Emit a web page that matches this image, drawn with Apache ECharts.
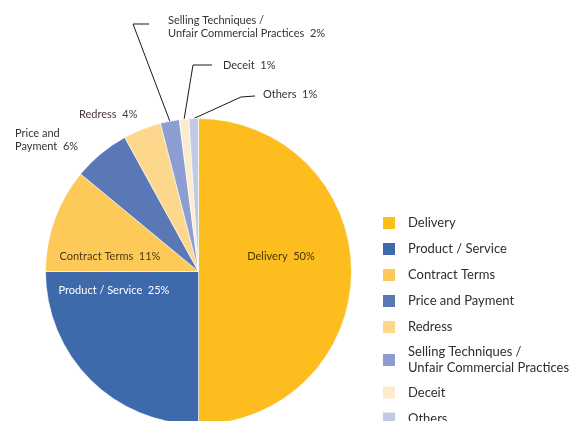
<!DOCTYPE html>
<html>
<head>
<meta charset="utf-8">
<script src="https://cdn.jsdelivr.net/npm/echarts@6/dist/echarts.min.js"></script>
<style>
  html, body { margin: 0; padding: 0; background: #fff; }
  #main { width: 572px; height: 421px; }
</style>
</head>
<body>
<div id="main"></div>
<script>
// categories (legend names) and their shares in %
var categories = ['Delivery', 'Product / Service', 'Contract Terms', 'Price and Payment', 'Redress',
                  'Selling Techniques /\nUnfair Commercial Practices', 'Deceit', 'Others'];
var shares = [50, 25, 11, 6, 4, 2, 1, 1];
// text used for the slice labels
var labelTexts = ['Delivery', 'Product / Service', 'Contract Terms', 'Price and\nPayment', 'Redress',
                  'Selling Techniques /\nUnfair Commercial Practices', 'Deceit', 'Others'];

var colors = ['#fdbd1f', '#3e69ab', '#fdca5a', '#5a77b6', '#fdd88c', '#8c9dd1', '#fdeccb', '#c0cae6'];
var labelColors = ['#4a3500', '#ffffff', '#4a3a12', '#333333', '#4d3838', '#333333', '#333333', '#333333'];
var inside = [true, true, true, false, false, false, false, false];

// where each label sits (layout only), plus leader line bends for the small slices
var labelPlace = [
  { x: 281, y: 256, align: 'center' },
  { x: 114, y: 290, align: 'center' },
  { x: 110, y: 256, align: 'center' },
  { x: 15, y: 140, align: 'left' },
  { x: 79, y: 114, align: 'left' },
  { x: 168, y: 27, align: 'left', line: [[133, 24], [149, 24]] },
  { x: 223, y: 65, align: 'left', line: [[193, 65], [212, 65]] },
  { x: 263, y: 94, align: 'left', line: [[241, 97], [255, 96]] }
];

var font = 'Lato, "Liberation Sans", sans-serif';

var data = categories.map(function (name, i) {
  return {
    name: name,
    value: shares[i],
    itemStyle: { color: colors[i] },
    label: { position: inside[i] ? 'inside' : 'outside', color: labelColors[i] },
    labelLine: { show: !!labelPlace[i].line }
  };
});

var myChart = echarts.init(document.getElementById('main'));
var option = {
  animation: false,
  backgroundColor: '#ffffff',
  legend: {
    orient: 'vertical',
    left: 381,
    top: 215,
    height: 260,
    padding: 0,
    itemGap: 10,
    itemWidth: 14,
    itemHeight: 14,
    icon: 'rect',
    selectedMode: false,
    formatter: function (name) {
      var parts = name.split('\n');
      if (parts.length > 1) return '{a|' + parts[0] + '}\n{b|' + parts[1] + '}';
      return '{s|' + name + '}';
    },
    textStyle: {
      fontFamily: font,
      fontSize: 13,
      color: '#2e2e2e',
      padding: [0, 0, 0, 7],
      rich: {
        s: { fontFamily: font, fontSize: 13, color: '#2e2e2e', lineHeight: 17 },
        a: { fontFamily: font, fontSize: 13, color: '#2e2e2e', lineHeight: 16 },
        b: { fontFamily: font, fontSize: 13, color: '#2e2e2e', lineHeight: 17 }
      }
    },
    data: categories
  },
  series: [
    {
      name: 'Complaints',
      type: 'pie',
      center: [198.5, 271.5],
      radius: 153,
      startAngle: 90,
      clockwise: true,
      avoidLabelOverlap: false,
      itemStyle: { borderColor: '#ffffff', borderWidth: 0.6 },
      label: {
        fontFamily: font,
        fontSize: 11,
        lineHeight: 13,
        formatter: function (p) {
          return labelTexts[p.dataIndex] + '  ' + p.value + '%';
        }
      },
      labelLine: {
        length: 20,
        length2: 15,
        lineStyle: { color: '#1a1a1a', width: 1 }
      },
      labelLayout: function (p) {
        var c = labelPlace[p.dataIndex];
        var o = { x: c.x, y: c.y, align: c.align, verticalAlign: 'middle' };
        if (c.line && p.labelLinePoints) {
          o.labelLinePoints = [p.labelLinePoints[0], c.line[0], c.line[1]];
        }
        return o;
      },
      emphasis: { disabled: true },
      data: data
    }
  ]
};
myChart.setOption(option);
</script>
</body>
</html>
